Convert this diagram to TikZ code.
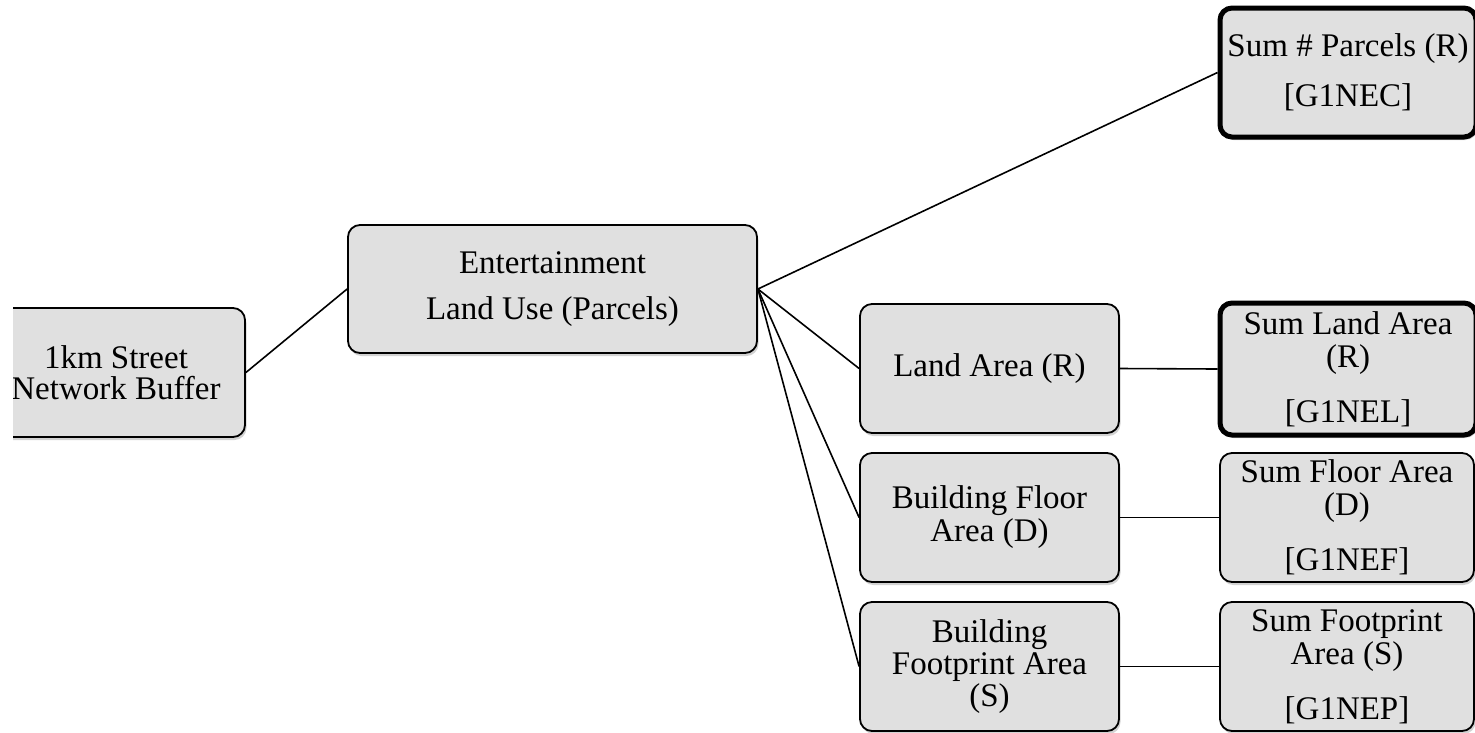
\documentclass[tikz,border=0pt]{standalone}
\usepackage{fontspec}
\setmainfont{Liberation Serif}
\usetikzlibrary{shadows}
\tikzset{
  box/.style={draw=black, line width=1.8pt, fill=boxgray, rounded corners=12pt,
    inner sep=0pt, align=center, minimum width=259pt, minimum height=129pt,
    font=\fontsize{33}{33}\selectfont,
    drop shadow={opacity=0.35, shadow xshift=1.5pt, shadow yshift=-3pt}},
  thickbox/.style={box, line width=5pt},
  link/.style={draw=black, line width=1.6pt}
}
\definecolor{boxgray}{RGB}{224,224,224}
\begin{document}
\begin{tikzpicture}[x=1pt,y=-1pt]
\useasboundingbox (0,0) rectangle (1475,732);
\fill[white] (0,0) rectangle (1475,732);
\begin{scope}
\clip (13,0) rectangle (1475,732);
\node[box, minimum width=258pt] (buf) at (116,372.5) {1km Street\\[-2pt]Network Buffer};
\end{scope}
\node[box, minimum width=409pt, minimum height=128pt] (ent) at (552.5,289) {Entertainment\\[13pt]Land Use (Parcels)};
\begin{scope}
\clip (0,0) rectangle (1475,732);
\node[thickbox, minimum width=256pt] (nec) at (1348,72.5) {Sum \# Parcels (R)\\[17pt][G1NEC]};
\node[thickbox, minimum width=256pt, minimum height=132pt] (nel) at (1348,369) {Sum Land Area\\(R)\\[22pt][G1NEL]};
\end{scope}
\node[box] (la) at (989.5,368.5) {Land Area (R)};
\node[box] (bf) at (989.5,517.5) {Building Floor\\Area (D)};
\node[box] (fp) at (989.5,666.5) {Building\\[-1pt]Footprint Area\\[-1pt](S)};
\node[box, minimum width=254pt] (nef) at (1347,517.5) {Sum Floor Area\\(D)\\[22pt][G1NEF]};
\node[box, minimum width=254pt] (nep) at (1347,666.5) {Sum Footprint\\Area (S)\\[22pt][G1NEP]};
\draw[link] (buf.east) -- (ent.west);
\draw[link] (ent.east) -- (nec.west);
\draw[link] (ent.east) -- (la.west);
\draw[link] (ent.east) -- (bf.west);
\draw[link] (ent.east) -- (fp.west);
\draw[link] (la.east) -- (nel.west);
\draw[link] (bf.east) -- (nef.west);
\draw[link] (fp.east) -- (nep.west);
\end{tikzpicture}
\end{document}
